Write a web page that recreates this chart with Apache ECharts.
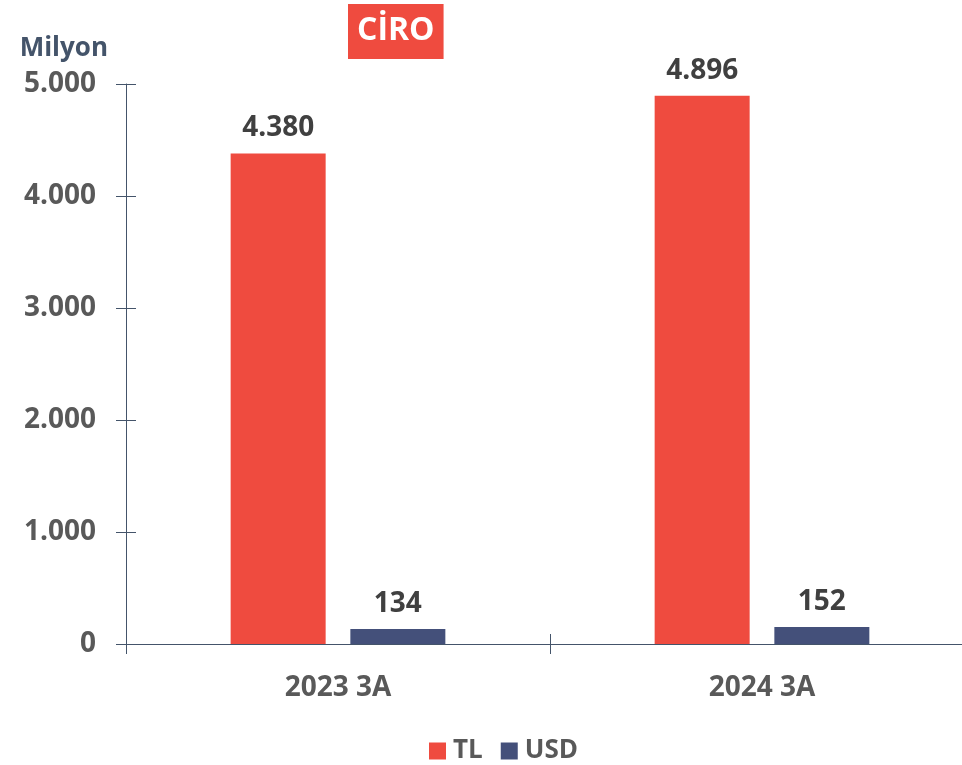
<!DOCTYPE html>
<html>
<head>
<meta charset="utf-8">
<script src="https://cdn.jsdelivr.net/npm/echarts@6/dist/echarts.min.js"></script>
<style>
  html, body { margin: 0; padding: 0; background: #fff; overflow: hidden; }
  #main { width: 974px; height: 765px; }
</style>
</head>
<body>
<div id="main"></div>
<script>
// data
const categories = ['2023 3A', '2024 3A'];
const tlValues = [4380, 4896];
const usdValues = [134, 152];
const yTicks = [0, 1000, 2000, 3000, 4000, 5000];

const FONT = '"Open Sans", "Noto Sans", sans-serif';
const AXIS = '#44546A';

// 4380 -> 4.380
function trNum(v) {
  return String(v).replace(/\B(?=(\d{3})+(?!\d))/g, '.');
}

var myChart = echarts.init(document.getElementById('main'));

var valueLabel = {
  show: true,
  position: 'top',
  distance: 11,
  color: '#404040',
  fontFamily: FONT,
  fontWeight: 'bold',
  fontSize: 28,
  formatter: function (p) { return trNum(p.value); }
};

var yMin = yTicks[0], yMax = yTicks[yTicks.length - 1], yStep = yTicks[1] - yTicks[0];

var option = {
  animation: false,
  title: {
    text: 'CİRO',
    left: 348,
    top: 4,
    backgroundColor: '#EF4B3F',
    padding: [11, 9, 12, 9],
    textStyle: {
      color: '#fff',
      fontFamily: FONT,
      fontWeight: 'bold',
      fontSize: 32
    }
  },
  legend: {
    left: 424,
    top: 733,
    itemWidth: 17,
    itemHeight: 17,
    itemGap: 18,
    icon: 'rect',
    textStyle: {
      color: '#595959',
      fontFamily: FONT,
      fontWeight: 'bold',
      fontSize: 26,
      padding: [0, 0, 0, 2]
    },
    data: ['TL', 'USD']
  },
  grid: {
    left: 126,
    top: 84,
    width: 848,
    bottom: 121,
    containLabel: false
  },
  xAxis: [
    {
      type: 'category',
      data: categories,
      axisLine: { lineStyle: { color: AXIS, width: 1 } },
      axisTick: { show: true, length: 10, lineStyle: { color: AXIS } },
      axisLabel: {
        margin: 30,
        color: '#595959',
        fontFamily: FONT,
        fontWeight: 'bold',
        fontSize: 28
      }
    },
    {
      // inner half of the crossing ticks
      type: 'category',
      data: categories,
      position: 'bottom',
      axisLine: { show: false },
      axisTick: { show: true, inside: true, length: 10, lineStyle: { color: AXIS } },
      axisLabel: { show: false }
    }
  ],
  yAxis: [
    {
      type: 'value',
      min: yMin,
      max: yMax,
      interval: yStep,
      name: 'Milyon',
      nameLocation: 'end',
      nameGap: 22,
      nameTextStyle: {
        align: 'right',
        color: AXIS,
        fontFamily: FONT,
        fontWeight: 'bold',
        fontSize: 26,
        padding: [0, 18, 0, 0]
      },
      axisLine: { show: true, lineStyle: { color: AXIS, width: 1 } },
      axisTick: { show: true, length: 10, lineStyle: { color: AXIS } },
      splitLine: { show: false },
      axisLabel: {
        margin: 30,
        color: '#595959',
        fontFamily: FONT,
        fontWeight: 'bold',
        fontSize: 28,
        formatter: function (v) { return trNum(v); }
      }
    },
    {
      type: 'value',
      min: yMin,
      max: yMax,
      interval: yStep,
      position: 'left',
      axisLine: { show: false },
      axisTick: { show: true, inside: true, length: 10, lineStyle: { color: AXIS } },
      splitLine: { show: false },
      axisLabel: { show: false }
    }
  ],
  series: [
    {
      name: 'TL',
      type: 'bar',
      data: tlValues,
      barWidth: 95,
      barGap: '26%',
      itemStyle: { color: '#EF4B3F' },
      label: valueLabel
    },
    {
      name: 'USD',
      type: 'bar',
      data: usdValues,
      barWidth: 95,
      itemStyle: { color: '#44507A' },
      label: valueLabel
    }
  ]
};
myChart.setOption(option);
</script>
</body>
</html>
